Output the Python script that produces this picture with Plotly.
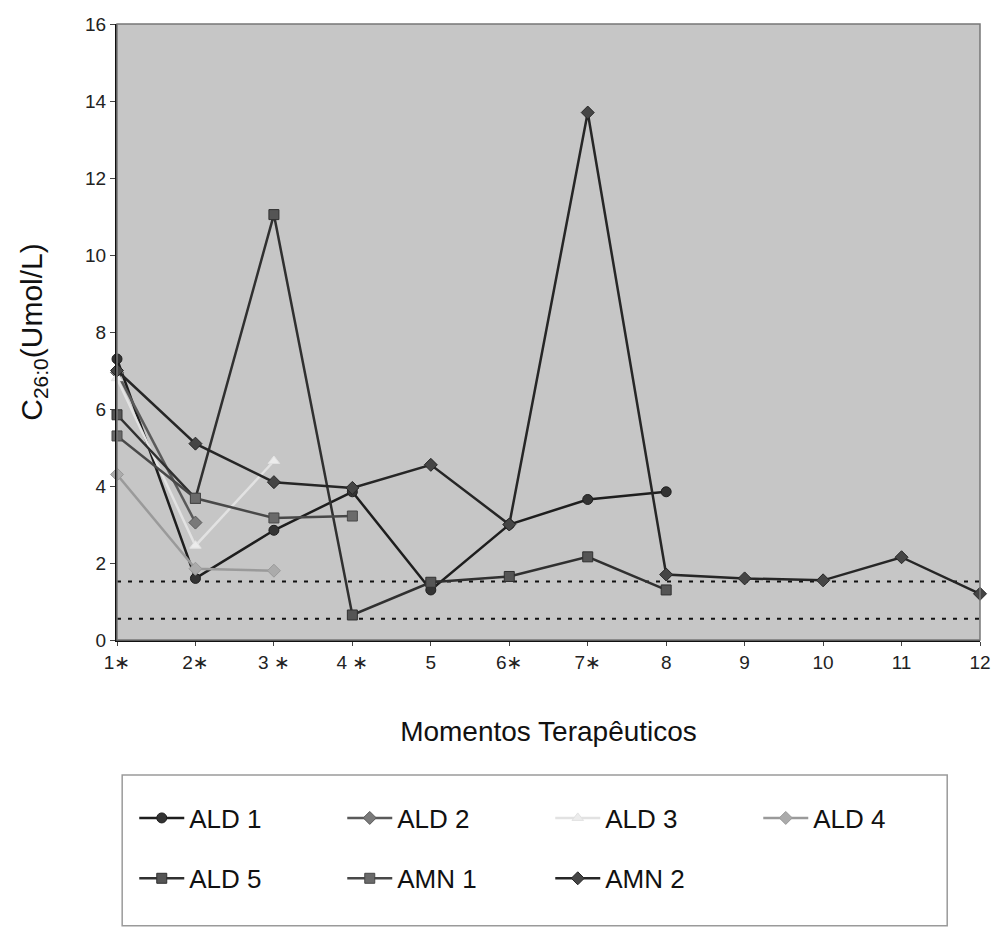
import plotly.graph_objects as go

# Therapeutic moments (x positions) and their tick labels
moments = list(range(1, 13))
tick_labels = ["1∗", "2∗", "3 ∗", "4 ∗", "5", "6∗", "7∗", "8", "9", "10", "11", "12"]

# C26:0 concentrations (Umol/L) per patient
ald1 = [7.3, 1.6, 2.85, 3.85, 1.3, 3.0, 3.65, 3.85]
ald2 = [6.95, 3.05]
ald3 = [6.8, 2.45, 4.65]
ald4 = [4.3, 1.85, 1.8]
ald5 = [5.85, 3.68, 11.05, 0.65, 1.5, 1.65, 2.16, 1.3]
amn1 = [5.3, 3.68, 3.17, 3.22]
amn2 = [7.0, 5.1, 4.1, 3.95, 4.55, 3.0, 13.7, 1.7, 1.6, 1.55, 2.15, 1.2]

# Reference limits
ref_upper = 1.52
ref_lower = 0.55

series = [
    ("ALD 1", ald1, "circle", "#1e1e1e", "#333333", "legend"),
    ("ALD 2", ald2, "diamond", "#5a5a5a", "#7a7a7a", "legend"),
    ("ALD 3", ald3, "triangle-up", "#e2e2e2", "#ececec", "legend"),
    ("ALD 4", ald4, "diamond", "#9a9a9a", "#ababab", "legend"),
    ("ALD 5", ald5, "square", "#303030", "#555555", "legend2"),
    ("AMN 1", amn1, "square", "#484848", "#6a6a6a", "legend2"),
    ("AMN 2", amn2, "diamond", "#262626", "#454545", "legend2"),
]

fig = go.Figure()

for ref in (ref_upper, ref_lower):
    fig.add_trace(go.Scatter(
        x=[moments[0], moments[-1]], y=[ref, ref], mode="lines",
        line=dict(color="#111111", width=2, dash="4px,7px"),
        showlegend=False, hoverinfo="skip",
    ))

for name, vals, sym, lcol, mcol, leg in series:
    fig.add_trace(go.Scatter(
        x=moments[:len(vals)], y=vals, name=name, mode="lines+markers",
        line=dict(color=lcol, width=2.5),
        marker=dict(symbol=sym, size=10, color=mcol,
                    line=dict(color=lcol, width=1)),
        cliponaxis=False, legend=leg,
    ))

font_family = "Liberation Sans, Arial, DejaVu Sans, sans-serif"

legend_common = dict(
    orientation="h", xanchor="left", yanchor="middle",
    font=dict(size=26, color="#111111", family=font_family),
    bgcolor="rgba(0,0,0,0)", borderwidth=0,
    itemwidth=45, entrywidthmode="pixels", entrywidth=148,
    itemclick=False, itemdoubleclick=False,
)

fig.update_layout(
    width=1003, height=930,
    margin=dict(l=117, r=14, t=24, b=290),
    paper_bgcolor="white",
    plot_bgcolor="#c6c6c6",
    font=dict(family=font_family, color="#111111"),
    showlegend=True,
    legend=dict(x=0.02, y=-0.289, **legend_common),
    legend2=dict(x=0.02, y=-0.387, **legend_common),
    xaxis=dict(
        range=[1, 12], tickvals=moments, ticktext=tick_labels,
        showgrid=False, zeroline=False,
        showline=True, linecolor="#111111", linewidth=2,
        ticks="outside", ticklen=4, tickcolor="#444444",
        tickfont=dict(size=19, color="#222222"),
        title=dict(text="Momentos Terapêuticos", standoff=50,
                   font=dict(size=28, color="#111111")),
    ),
    yaxis=dict(
        range=[0, 16], dtick=2,
        showgrid=False, zeroline=False,
        showline=True, linecolor="#111111", linewidth=2,
        ticks="outside", ticklen=5, tickcolor="#444444",
        tickfont=dict(size=19, color="#222222"),
        title=dict(text="C<sub>26:0</sub>(Umol/L)", standoff=34,
                   font=dict(size=30, color="#111111")),
    ),
    shapes=[
        # Plot area frame
        dict(type="rect", xref="paper", yref="paper", x0=0, x1=1, y0=0, y1=1,
             line=dict(color="#777777", width=1.5), layer="above"),
        # Legend box
        dict(type="rect", xref="paper", yref="paper",
             x0=0.006, x1=0.962, y0=-0.464, y1=-0.219,
             line=dict(color="#9a9a9a", width=1.5)),
    ],
)

fig.write_html("out.html")
